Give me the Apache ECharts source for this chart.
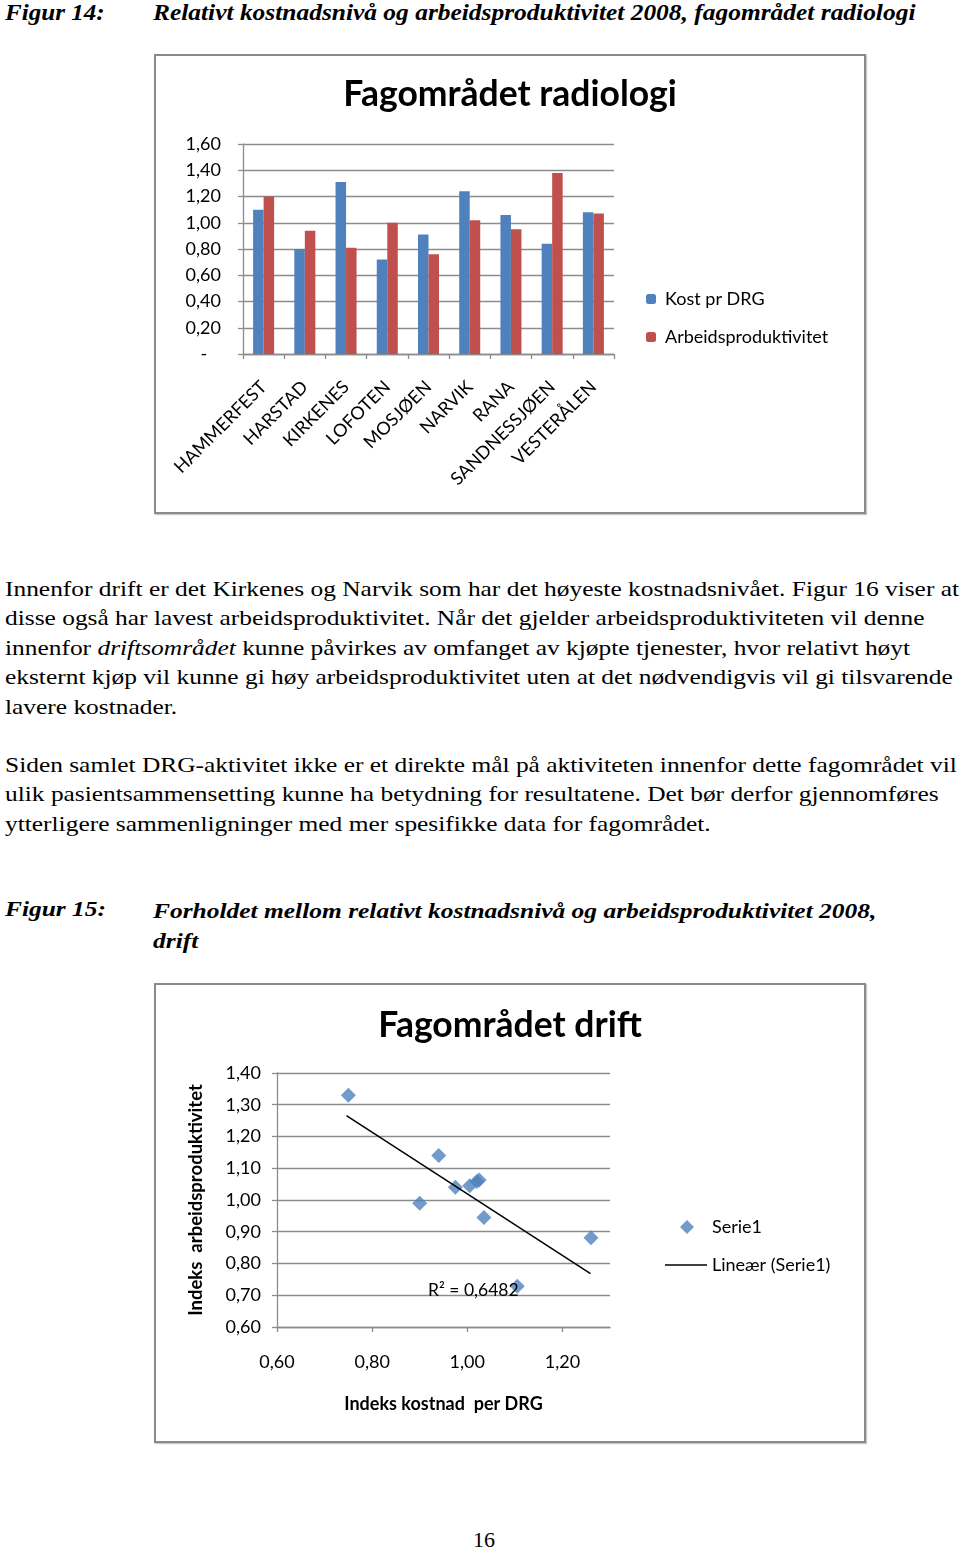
<!DOCTYPE html>
<html>
<head>
<meta charset="utf-8">
<script src="https://cdn.jsdelivr.net/npm/echarts@6/dist/echarts.min.js"></script>
<style>
  html, body { margin:0; padding:0; background:#fff; }
  #page { position:relative; width:960px; height:1550px; background:#fff; font-family:"Liberation Serif","Times New Roman",serif; color:#000; overflow:hidden; }
  .t { position:absolute; white-space:nowrap; transform-origin:0 0; }
  .hdr { font-weight:bold; font-style:italic; font-size:22px; }
  .body { font-size:22px; line-height:29.4px; left:5px; transform:scaleX(1.155); }
  .box { position:absolute; border:2px solid #8a8a8a; box-shadow:1px 1px 1px #c8c8c8; background:#fff; }
</style>
</head>
<body>
<div id="page">
  <div class="t hdr" style="left:5px;top:0px;font-size:23px;transform:scaleX(1.09);">Figur 14:</div>
  <div class="t hdr" style="left:153px;top:0px;font-size:23px;transform:scaleX(1.106);">Relativt kostnadsnivå og arbeidsproduktivitet 2008, fagområdet radiologi</div>

  <div class="box" style="left:154px;top:54px;width:708px;height:456px;"><div id="c1" style="width:708px;height:456px;"></div></div>

  <div class="t body" style="top:574px;">Innenfor drift er det Kirkenes og Narvik som har det høyeste kostnadsnivået. Figur 16 viser at<br>disse også har lavest arbeidsproduktivitet. Når det gjelder arbeidsproduktiviteten vil denne<br>innenfor <i>driftsområdet</i> kunne påvirkes av omfanget av kjøpte tjenester, hvor relativt høyt<br>eksternt kjøp vil kunne gi høy arbeidsproduktivitet uten at det nødvendigvis vil gi tilsvarende<br>lavere kostnader.</div>

  <div class="t body" style="top:750px;">Siden samlet DRG-aktivitet ikke er et direkte mål på aktiviteten innenfor dette fagområdet vil<br>ulik pasientsammensetting kunne ha betydning for resultatene. Det bør derfor gjennomføres<br>ytterligere sammenligninger med mer spesifikke data for fagområdet.</div>

  <div class="t hdr" style="left:5px;top:896px;transform:scaleX(1.155);">Figur 15:</div>
  <div class="t hdr" style="left:153px;top:896px;line-height:29.5px;transform:scaleX(1.157);">Forholdet mellom relativt kostnadsnivå og arbeidsproduktivitet 2008,<br>drift</div>

  <div class="box" style="left:154px;top:983px;width:708px;height:456px;"><div id="c2" style="width:708px;height:456px;"></div></div>

  <div class="t" style="left:473px;top:1527px;font-size:22px;">16</div>
</div>
<script>
// ---- Figur 14 data ----
const categories = ['HAMMERFEST','HARSTAD','KIRKENES','LOFOTEN','MOSJØEN','NARVIK','RANA','SANDNESSJØEN','VESTERÅLEN'];
const kostPrDRG = [1.10, 0.80, 1.31, 0.72, 0.91, 1.24, 1.06, 0.84, 1.08];
const arbeidsproduktivitet = [1.20, 0.94, 0.81, 1.00, 0.76, 1.02, 0.95, 1.38, 1.07];
const barYTicks = [0, 0.2, 0.4, 0.6, 0.8, 1.0, 1.2, 1.4, 1.6];

// ---- Figur 15 data ----
const kostnadIndex = [0.75, 0.94, 0.90, 0.975, 1.005, 1.02, 1.025, 1.035, 1.105, 1.26];
const produktivitetIndex = [1.33, 1.14, 0.99, 1.04, 1.045, 1.058, 1.063, 0.945, 0.728, 0.881];
const trendX = [0.746, 1.259];
const trendY = [1.266, 0.768];
const rSquaredText = 'R² = 0,6482';

const FONT = 'Lato';
const GRID = '#8c8c8c';
const fmt = v => v.toFixed(2).replace('.', ',');

const c1 = echarts.init(document.getElementById('c1'));
c1.setOption({
  animation: false,
  textStyle: { fontFamily: FONT },
  title: {
    text: 'Fagområdet radiologi', left: 'center', top: 16,
    textStyle: { fontFamily: FONT, fontWeight: 'bold', fontSize: 35.5, color: '#000' }
  },
  legend: {
    orient: 'vertical', left: 485, top: 228, itemWidth: 10, itemHeight: 10, itemGap: 18,
    textStyle: { fontFamily: FONT, fontSize: 18, color: '#000', lineHeight: 20, padding: [0, 0, 0, 4] },
    data: ['Kost pr DRG', 'Arbeidsproduktivitet']
  },
  grid: { left: 87, top: 88, width: 371, height: 210 },
  xAxis: {
    type: 'category', data: categories,
    axisLine: { lineStyle: { color: GRID, width: 1.3 } },
    axisTick: { show: true, length: 5, lineStyle: { color: GRID, width: 1.3 } },
    axisLabel: { rotate: 45, interval: 0, margin: 30, fontFamily: FONT, fontSize: 18, color: '#000' }
  },
  yAxis: {
    type: 'value', min: 0, max: 1.6, interval: 0.2,
    axisLine: { show: true, lineStyle: { color: GRID, width: 1.3 } },
    axisTick: { show: true, length: 5, lineStyle: { color: GRID, width: 1.3 } },
    splitLine: { lineStyle: { color: GRID, width: 1.3 } },
    axisLabel: { margin: 22, fontFamily: FONT, fontSize: 18, color: '#000',
      formatter: v => (v === 0 ? '-   ' : fmt(v)) }
  },
  series: [
    { name: 'Kost pr DRG', type: 'bar', data: kostPrDRG, barGap: '0%', barCategoryGap: '49%', itemStyle: { color: '#4F81BD' } },
    { name: 'Arbeidsproduktivitet', type: 'bar', data: arbeidsproduktivitet, itemStyle: { color: '#C0504D' } }
  ]
});

const c2 = echarts.init(document.getElementById('c2'));
c2.setOption({
  animation: false,
  textStyle: { fontFamily: FONT },
  title: {
    text: 'Fagområdet drift', left: 'center', top: 18,
    textStyle: { fontFamily: FONT, fontWeight: 'bold', fontSize: 35.5, color: '#000' }
  },
  legend: [
    { left: 519, top: 228, itemWidth: 14, itemHeight: 14,
      textStyle: { fontFamily: FONT, fontSize: 18, color: '#000', padding: [0, 0, 0, 13] },
      data: ['Serie1'] },
    { left: 504, top: 266, itemWidth: 42, itemHeight: 1.6,
      textStyle: { fontFamily: FONT, fontSize: 18, color: '#000' },
      data: [{ name: 'Lineær (Serie1)', icon: 'rect', itemStyle: { color: '#000' } }] }
  ],
  grid: { left: 121, top: 88, width: 333, height: 254 },
  xAxis: {
    type: 'value', min: 0.6, max: 1.3, interval: 0.2,
    name: 'Indeks kostnad  per DRG', nameLocation: 'middle', nameGap: 68,
    nameTextStyle: { fontFamily: FONT, fontWeight: 'bold', fontSize: 18, color: '#000' },
    axisLine: { lineStyle: { color: GRID, width: 1.3 } },
    axisTick: { show: true, length: 5, lineStyle: { color: GRID, width: 1.3 } },
    splitLine: { show: false },
    axisLabel: { margin: 26, fontFamily: FONT, fontSize: 18, color: '#000', showMaxLabel: false, formatter: fmt }
  },
  yAxis: {
    type: 'value', min: 0.6, max: 1.4, interval: 0.1,
    name: 'Indeks  arbeidsproduktivitet', nameLocation: 'middle', nameGap: 71,
    nameTextStyle: { fontFamily: FONT, fontWeight: 'bold', fontSize: 18.5, color: '#000' },
    axisLine: { show: true, lineStyle: { color: GRID, width: 1.3 } },
    axisTick: { show: true, length: 5, lineStyle: { color: GRID, width: 1.3 } },
    splitLine: { lineStyle: { color: GRID, width: 1.3 } },
    axisLabel: { margin: 16, fontFamily: FONT, fontSize: 18, color: '#000', formatter: fmt }
  },
  graphic: [
    { type: 'text', left: 272, top: 296, z: 100,
      style: { text: rSquaredText, fontFamily: FONT, fontSize: 17.5, fill: '#000' } }
  ],
  series: [
    { name: 'Serie1', type: 'scatter', symbol: 'diamond', symbolSize: 15,
      itemStyle: { color: '#4F81BD' },
      data: kostnadIndex.map((x, i) => [x, produktivitetIndex[i]]) },
    { name: 'Lineær (Serie1)', type: 'line', symbol: 'none', showSymbol: false,
      lineStyle: { color: '#000', width: 1.5 }, itemStyle: { color: '#000' },
      data: trendX.map((x, i) => [x, trendY[i]]) }
  ]
});
</script>
</body>
</html>
